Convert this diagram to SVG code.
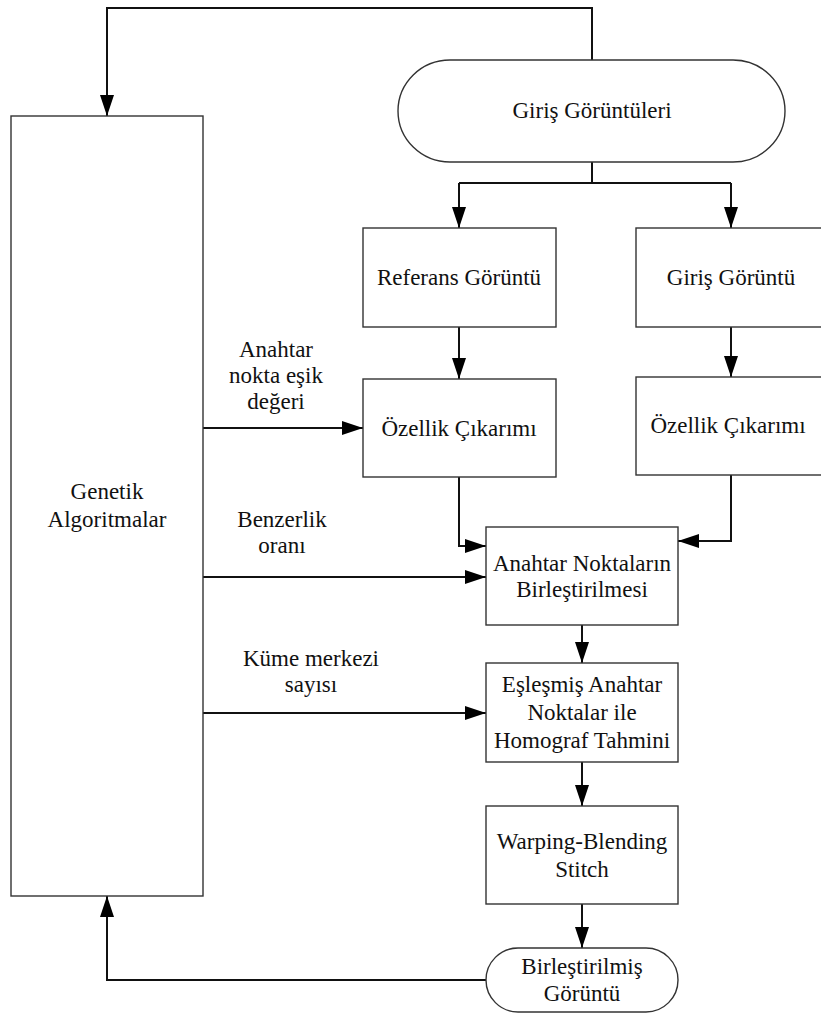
<svg xmlns="http://www.w3.org/2000/svg" width="821" height="1014" viewBox="0 0 821 1014">
<style>
.box{fill:#fff;stroke:#333;stroke-width:1.4}
.t{font-family:'Liberation Serif','Times New Roman',Tinos,'DejaVu Serif',serif;font-size:23px;fill:#111;text-anchor:middle}
.c{fill:none;stroke:#111;stroke-width:2}
</style>
<defs>
<marker id="ah" markerUnits="userSpaceOnUse" markerWidth="21" markerHeight="14" refX="21" refY="7" orient="auto">
<path d="M0,0 L21,7 L0,14 z" fill="#000"/>
</marker>
</defs>
<rect width="821" height="1014" fill="#fff"/>
<g font-family="Liberation Serif, Times New Roman, serif">
<g id="connectors">
<path class="c" d="M592,60 V8 H107 V116" marker-end="url(#ah)"/>
<path class="c" d="M592,162 V183"/>
<path class="c" d="M459,183 H731"/>
<path class="c" d="M459,183 V228" marker-end="url(#ah)"/>
<path class="c" d="M731,183 V228" marker-end="url(#ah)"/>
<path class="c" d="M459,327 V379" marker-end="url(#ah)"/>
<path class="c" d="M731,327 V377" marker-end="url(#ah)"/>
<path class="c" d="M459,477 V546 H486" marker-end="url(#ah)"/>
<path class="c" d="M731,475 V541 H678" marker-end="url(#ah)"/>
<path class="c" d="M203,428 H363" marker-end="url(#ah)"/>
<path class="c" d="M203,577 H486" marker-end="url(#ah)"/>
<path class="c" d="M203,713 H486" marker-end="url(#ah)"/>
<path class="c" d="M582,625 V663" marker-end="url(#ah)"/>
<path class="c" d="M582,762 V806" marker-end="url(#ah)"/>
<path class="c" d="M582,904 V948" marker-end="url(#ah)"/>
<path class="c" d="M486,980 H107 V896" marker-end="url(#ah)"/>
<text class="t" x="276" y="357">Anahtar</text>
<text class="t" x="276" y="383">nokta eşik</text>
<text class="t" x="276" y="409">değeri</text>
<text class="t" x="282" y="527">Benzerlik</text>
<text class="t" x="282" y="553">oranı</text>
<text class="t" x="311" y="666">Küme merkezi</text>
<text class="t" x="311" y="692">sayısı</text>
</g>
<g id="genetik">
<rect class="box" x="11" y="116" width="192" height="780"/>
<text class="t" x="107" y="499">Genetik</text>
<text class="t" x="107" y="527">Algoritmalar</text>
</g>
<g id="giris-goruntuleri">
<rect class="box" x="398" y="60" width="387" height="102" rx="52" ry="51"/>
<text class="t" x="592" y="118">Giriş Görüntüleri</text>
</g>
<g id="referans">
<rect class="box" x="363" y="228" width="193" height="99"/>
<text class="t" x="459" y="285">Referans Görüntü</text>
</g>
<g id="giris">
<rect class="box" x="636" y="228" width="192" height="99"/>
<text class="t" x="731" y="285">Giriş Görüntü</text>
</g>
<g id="ozellik1">
<rect class="box" x="363" y="379" width="193" height="98"/>
<text class="t" x="459" y="436">Özellik Çıkarımı</text>
</g>
<g id="ozellik2">
<rect class="box" x="636" y="377" width="192" height="98"/>
<text class="t" x="728" y="433">Özellik Çıkarımı</text>
</g>
<g id="birlestirme">
<rect class="box" x="486" y="527" width="192" height="98"/>
<text class="t" x="582" y="571">Anahtar Noktaların</text>
<text class="t" x="582" y="597">Birleştirilmesi</text>
</g>
<g id="homograf">
<rect class="box" x="486" y="663" width="192" height="99"/>
<text class="t" x="582" y="692">Eşleşmiş Anahtar</text>
<text class="t" x="582" y="720">Noktalar ile</text>
<text class="t" x="582" y="748">Homograf Tahmini</text>
</g>
<g id="warping">
<rect class="box" x="486" y="806" width="192" height="98"/>
<text class="t" x="582" y="849">Warping-Blending</text>
<text class="t" x="582" y="877">Stitch</text>
</g>
<g id="birlestirilmis">
<rect class="box" x="486" y="948" width="192" height="64" rx="32" ry="32"/>
<text class="t" x="582" y="974">Birleştirilmiş</text>
<text class="t" x="582" y="1001">Görüntü</text>
</g>
</g>
</svg>
